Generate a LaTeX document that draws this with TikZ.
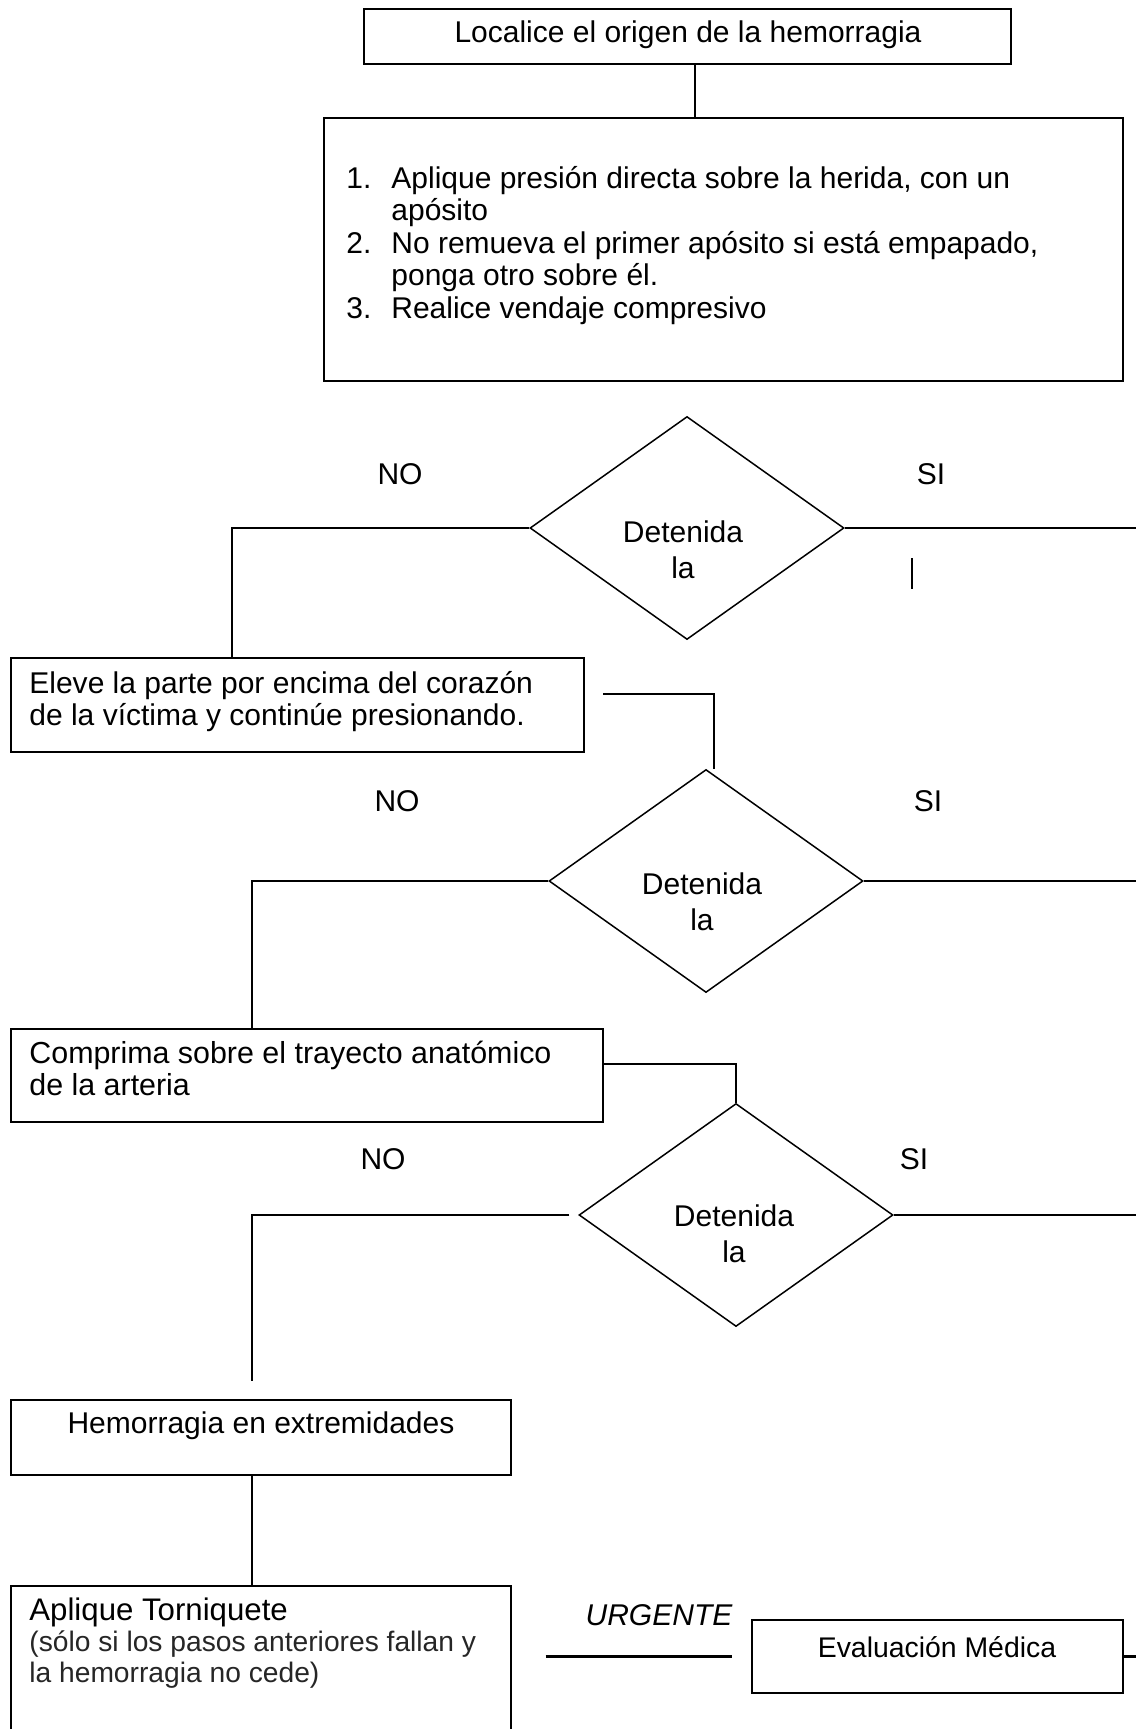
\documentclass[tikz,border=0pt]{standalone}
\usepackage{fontspec}
\setmainfont{Liberation Sans}
\usetikzlibrary{shapes.geometric}
\begin{document}
\begin{tikzpicture}[x=0.5pt,y=-0.5pt,
  box/.style={draw,rectangle,line width=1.4pt,inner sep=0pt},
  dec/.style={draw,diamond,line width=0.75pt,inner sep=0pt,minimum width=157pt,minimum height=111.5pt},
  conn/.style={line width=1.3pt},
  txt/.style={inner sep=0pt,font=\fontsize{15pt}{16pt}\selectfont},
  dtxt/.style={inner sep=0pt,align=center,font=\fontsize{15pt}{18pt}\selectfont},
  lbl/.style={inner sep=0pt,font=\fontsize{15pt}{16pt}\selectfont}
]
\useasboundingbox (0,0) rectangle (1136,1729);
\clip (0,0) rectangle (1136,1729);
\fill[white] (0,0) rectangle (1136,1729);

% helper coordinates
\coordinate (edge) at (1136,0);
\coordinate (xa) at (695,0);
\coordinate (xl1) at (232,0);
\coordinate (xl2) at (252,0);
\coordinate (xv2) at (714,0);
\coordinate (s2) at (603,694);
\coordinate (y3) at (0,1064);
\coordinate (m1) at (912,558);
\coordinate (m2) at (912,589);

% boxes
\node[box,minimum width=323.5pt,minimum height=27.5pt] (b0) at (687.5,36.5) {};
\node[txt,anchor=base] (t0) at (688,42) {Localice el origen de la hemorragia};

\node[box,minimum width=399.5pt,minimum height=131.5pt] (b1) at (723.5,249.5) {};
\node[inner sep=0pt,anchor=base west,font=\fontsize{15pt}{16.25pt}\selectfont] (t1) at (346,188)
 {\begin{tabular}[t]{@{}l@{}}
  \makebox[22.5pt][l]{1.}Aplique presión directa sobre la herida, con un\\
  \hspace*{22.5pt}apósito\\
  \makebox[22.5pt][l]{2.}No remueva el primer apósito si está empapado,\\
  \hspace*{22.5pt}ponga otro sobre él.\\
  \makebox[22.5pt][l]{3.}Realice vendaje compresivo
 \end{tabular}};

\node[box,minimum width=286.5pt,minimum height=47pt] (b2) at (297.5,705) {};
\node[txt,anchor=base west] (t2) at (29,693)
 {\begin{tabular}[t]{@{}l@{}}Eleve la parte por encima del corazón\\de la víctima y continúe presionando.\end{tabular}};

\node[box,minimum width=296pt,minimum height=46.5pt] (b3) at (307,1075.5) {};
\node[txt,anchor=base west,font=\fontsize{15.2pt}{16pt}\selectfont] (t3) at (29,1063)
 {\begin{tabular}[t]{@{}l@{}}Comprima sobre el trayecto anatómico\\de la arteria\end{tabular}};

\node[box,minimum width=250pt,minimum height=37.5pt] (b4) at (261,1437.5) {};
\node[txt,anchor=base] (t4) at (261,1433) {Hemorragia en extremidades};

\node[box,minimum width=250pt,minimum height=87pt] (b5) at (261,1673) {};
\node[inner sep=0pt,anchor=base west,font=\fontsize{15pt}{15.5pt}\selectfont] (t5) at (29,1620)
 {\begin{tabular}[t]{@{}l@{}}{\fontsize{15.6pt}{15.5pt}\selectfont Aplique Torniquete}\\
  {\fontsize{14.1pt}{15.5pt}\selectfont\color{black!85}(sólo si los pasos anteriores fallan y}\\
  {\fontsize{14.1pt}{15.5pt}\selectfont\color{black!85}la hemorragia no cede)}\end{tabular}};

\node[box,minimum width=185.5pt,minimum height=36.5pt] (b6) at (937.5,1656.5) {};
\node[txt,anchor=base,font=\fontsize{14.2pt}{16pt}\selectfont] (t6) at (937,1657) {Evaluación Médica};

% decisions
\node[dec] (d1) at (687,528) {};
\node[dtxt] (d1t) at (683,550) {Detenida\\la};
\node[dec] (d2) at (706,881) {};
\node[dtxt] (d2t) at (702,902) {Detenida\\la};
\node[dec] (d3) at (736,1215) {};
\node[dtxt] (d3t) at (734,1234) {Detenida\\la};

% labels
\node[lbl] (no1) at (400,474) {NO};
\node[lbl] (si1) at (931,474) {SI};
\node[lbl] (no2) at (397,801) {NO};
\node[lbl] (si2) at (928,801) {SI};
\node[lbl] (no3) at (383,1159) {NO};
\node[lbl] (si3) at (914,1159) {SI};
\node[lbl,font=\fontsize{15pt}{16pt}\selectfont\itshape] (urg) at (659,1615) {URGENTE};

% connectors
\draw[conn] (b0.south -| xa) -- (b1.north -| xa);
\draw[conn] (d1.west) -| (b2.north -| xl1);
\draw[conn] (d1.east) -- (d1.east -| edge);
\draw[line width=0.8pt] (m1) -- (m2);
\draw[conn] (s2) -| (d2.north -| xv2);
\draw[conn] (d2.west) -| (b3.north -| xl2);
\draw[conn] (d2.east) -- (d2.east -| edge);
\draw[conn] (b3.east |- y3) -| (d3.north);
\draw[conn] ([xshift=-4.5pt]d3.west) -| ([yshift=9pt]b4.north -| xl2);
\draw[conn] (d3.east) -- (d3.east -| edge);
\draw[conn] (b4.south -| xl2) -- (b5.north -| xl2);
\draw[conn] ([xshift=-102.5pt]b6.west) -- ([xshift=-9.5pt]b6.west);
\draw[conn] (b6.east) -- (b6.east -| edge);
\end{tikzpicture}
\end{document}
